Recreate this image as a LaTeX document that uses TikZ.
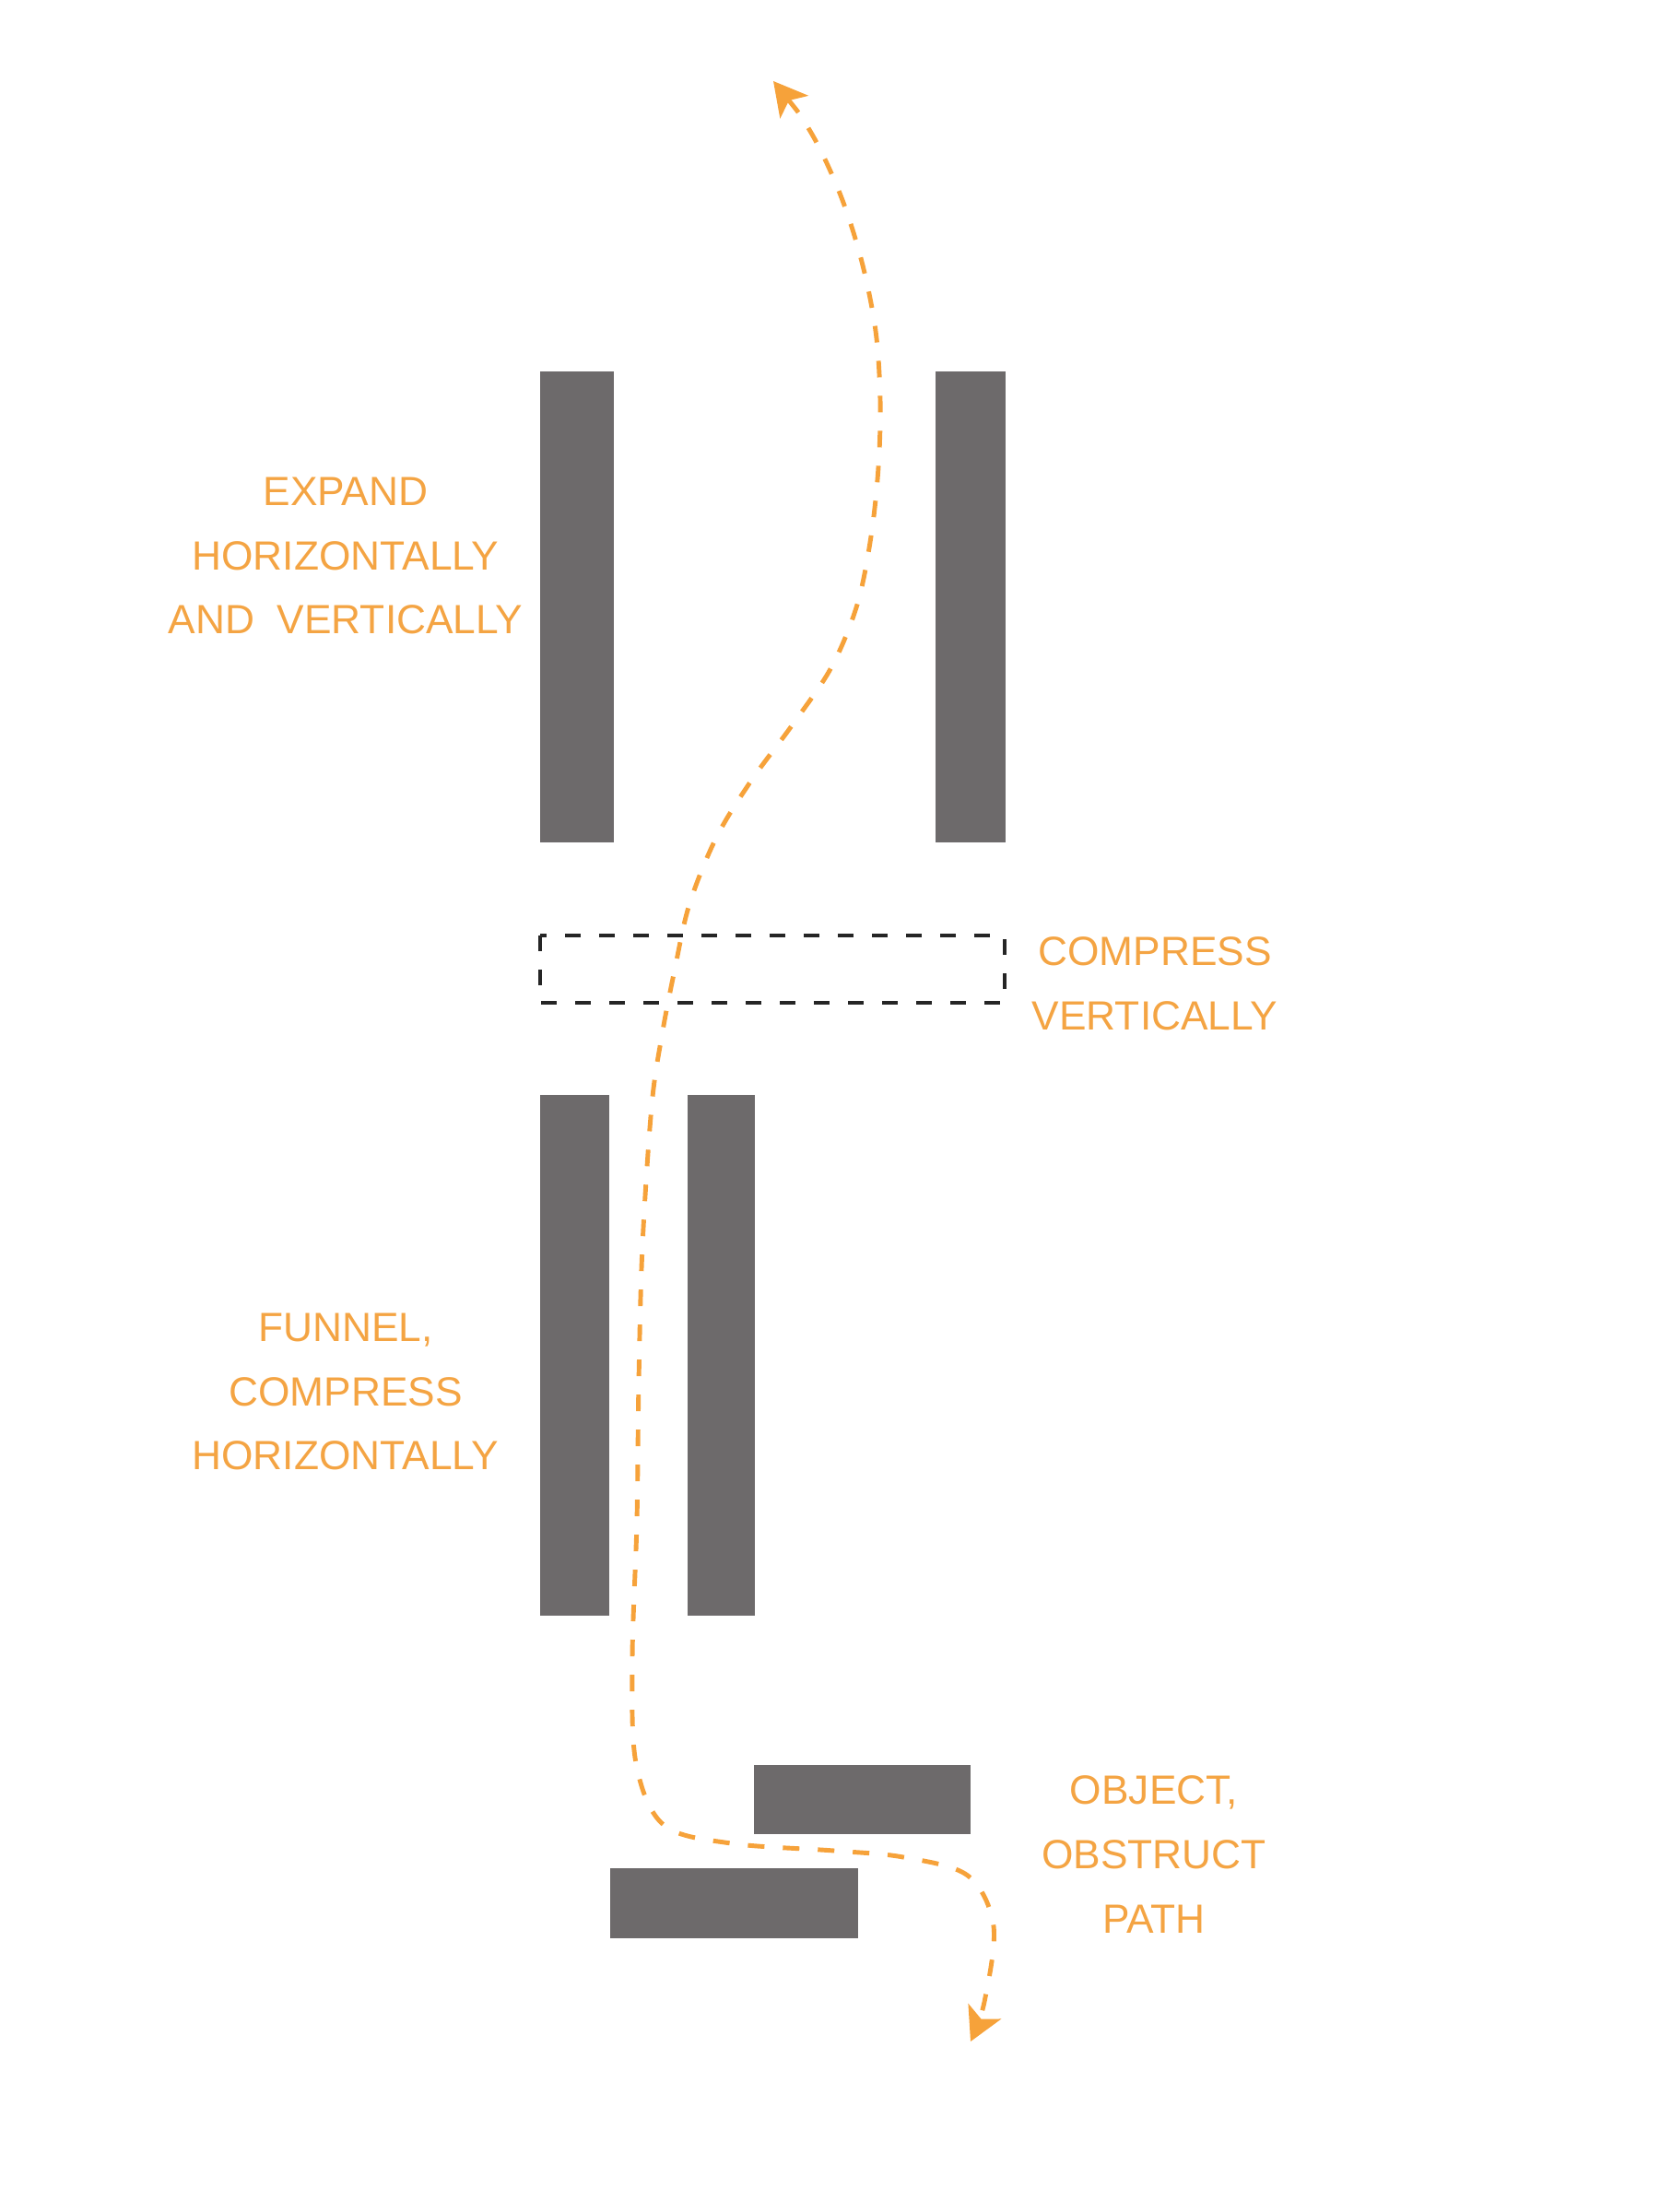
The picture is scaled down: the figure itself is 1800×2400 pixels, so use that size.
\documentclass[tikz,border=0pt]{standalone}
\usepackage{fontspec}
\setmainfont{Liberation Sans}
\usepackage{tikz}
\usepackage{xcolor}
\usetikzlibrary{arrows.meta}

\definecolor{bargray}{HTML}{6D6A6B}
\definecolor{pathorange}{HTML}{F6A23A}
\definecolor{textorange}{HTML}{F4A443}
\definecolor{framedark}{HTML}{252525}

\begin{document}
\begin{tikzpicture}[
  x=0.1mm, y=-0.1mm,
  bar/.style={fill=bargray},
  frame/.style={draw=framedark, line width=1.1pt, dash pattern=on 1.7mm off 2mm},
  route/.style={draw=pathorange, line width=1.4pt, dash pattern=on 1.8mm off 2mm,
    {Stealth[length=3.6mm, width=3.9mm, inset=0.9mm]}-{Stealth[length=3.6mm, width=3.9mm, inset=0.9mm]}},
  lbl/.style={text=textorange, align=center, inner sep=0pt, font=\fontsize{12.6}{19.9}\selectfont}
]
\useasboundingbox (0,0) rectangle (1800,2400);

% Top pair: expand
\fill[bar] (586,403) rectangle (666,914);
\fill[bar] (1015,403) rectangle (1091,914);

% Middle: compress vertically
\draw[frame] (586,1015) rectangle (1090,1088);

% Funnel pair
\fill[bar] (586,1188) rectangle (661,1753);
\fill[bar] (746,1188) rectangle (819,1753);

% Obstructing objects
\fill[bar] (818,1915) rectangle (1053,1990);
\fill[bar] (662,2027) rectangle (931,2103);

% Labels
\node[lbl] (expand) at (375,603) {EXPAND\\HORIZONTALLY\\AND\ \ VERTICALLY};
\node[lbl] (compress) at (1253,1067) {COMPRESS\\VERTICALLY};
\node[lbl] (funnel) at (375,1510) {FUNNEL,\\COMPRESS\\HORIZONTALLY};
\node[lbl] (object) at (1252,2012) {OBJECT,\\OBSTRUCT\\PATH};

% Path of travel
\coordinate (exit) at (839,88);
\coordinate (entry) at (1053,2215);
\draw[route] plot[smooth, tension=0.55] coordinates {
  (exit) (880,144) (912,212) (935,284) (950,359) (955,434) (953,507)
  (945,582) (930,656) (902,724) (860,786) (815,847) (777,909) (748,981)
  (732,1052) (718,1124) (707,1200) (697,1352) (693,1499) (691,1650)
  (686,1800) (690,1913) (720,1980) (793,2000) (905,2008) (980,2015)
  (1050,2035) (1078,2090) (1068,2172) (entry)};

\end{tikzpicture}
\end{document}
